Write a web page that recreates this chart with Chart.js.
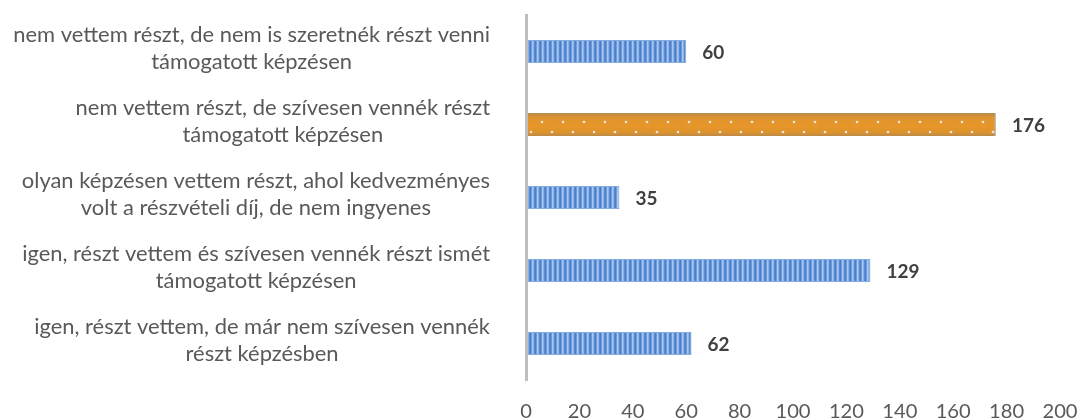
<!DOCTYPE html>
<html><head><meta charset="utf-8">
<script src="https://cdn.jsdelivr.net/npm/chart.js@4.4.0/dist/chart.umd.min.js"></script>
<style>html,body{margin:0;padding:0;background:#fff;overflow:hidden}#wrap{width:1081px;height:419px;position:relative}</style>
</head><body><div id="wrap"><canvas id="c"></canvas></div>
<script>
// ---- data ----
const categories = [
  ["nem vettem részt, de nem is szeretnék részt venni", "támogatott képzésen"],
  ["nem vettem részt, de szívesen vennék részt", "támogatott képzésen"],
  ["olyan képzésen vettem részt, ahol kedvezményes", "volt a részvételi díj, de nem ingyenes"],
  ["igen, részt vettem és szívesen vennék részt ismét", "támogatott képzésen"],
  ["igen, részt vettem, de már nem szívesen vennék", "részt képzésben"]
];
const values = [60, 176, 35, 129, 62];
const highlighted = [false, true, false, false, false];
const xMin = 0, xMax = 200, xStep = 20;

// ---- fonts ----
const FAMILY = 'Lato, "Open Sans", sans-serif';
function fit(text, weight, target) {
  const c = document.createElement('canvas').getContext('2d');
  c.font = weight + ' 100px ' + FAMILY;
  return target * 100 / c.measureText(text).width;
}
const labelSize = fit(categories[0][0], 'normal', 477);
const tickSize = fit('200', 'normal', 35);
const valueSize = fit('176', 'bold', 33);

// ---- patterns ----
function bluePattern() {
  const t = document.createElement('canvas'); t.width = 5; t.height = 4;
  const g = t.getContext('2d');
  const cols = ['#4A7FCB', '#6D9BDC', '#A9C7EF', '#8CB1E6', '#5A8CD3'];
  cols.forEach((c, i) => { g.fillStyle = c; g.fillRect(i, 0, 1, 4); });
  return g.createPattern(t, 'repeat');
}
function orangePattern() {
  const t = document.createElement('canvas'); t.width = 21; t.height = 24;
  const g = t.getContext('2d');
  const gr = g.createLinearGradient(0, 0, 0, 24);
  gr.addColorStop(0, '#B88A48');
  gr.addColorStop(0.2, '#DE932E');
  gr.addColorStop(0.5, '#E8962A');
  gr.addColorStop(0.8, '#DE932E');
  gr.addColorStop(1, '#B28A50');
  g.fillStyle = gr; g.fillRect(0, 0, 21, 24);
  g.fillStyle = 'rgba(235,240,248,0.9)';
  [[17, 9], [6, 19]].forEach(([x, y]) => { g.beginPath(); g.arc(x, y, 1.3, 0, Math.PI * 2); g.fill(); });
  return g.createPattern(t, 'repeat');
}
const bluePat = bluePattern();
const orangePat = orangePattern();

const patternAlign = {
  id: 'patternAlign',
  beforeDatasetsDraw(chart) {
    const meta = chart.getDatasetMeta(0);
    meta.data.forEach((el, i) => {
      if (highlighted[i]) {
        const top = Math.round(el.y - el.height / 2);
        orangePat.setTransform(new DOMMatrix([1, 0, 0, 1, 0, top]));
      }
    });
  }
};

const valueLabels = {
  id: 'valueLabels',
  afterDatasetsDraw(chart) {
    const ctx = chart.ctx;
    const meta = chart.getDatasetMeta(0);
    ctx.save();
    ctx.font = 'bold ' + valueSize + 'px ' + FAMILY;
    ctx.fillStyle = '#404040';
    ctx.textAlign = 'left';
    ctx.textBaseline = 'middle';
    meta.data.forEach((el, i) => {
      ctx.fillText(String(values[i]), el.x + 16, el.y + 1);
    });
    ctx.restore();
  }
};

const categoryLabels = {
  id: 'categoryLabels',
  afterDraw(chart) {
    const ctx = chart.ctx;
    const meta = chart.getDatasetMeta(0);
    const right = 490;
    ctx.save();
    ctx.font = labelSize + 'px ' + FAMILY;
    ctx.fillStyle = '#595959';
    ctx.textAlign = 'center';
    ctx.textBaseline = 'middle';
    meta.data.forEach((el, i) => {
      const lines = categories[i];
      const maxW = Math.max(...lines.map(l => ctx.measureText(l).width));
      const cx = right - maxW / 2;
      lines.forEach((l, j) => {
        ctx.fillText(l, cx, el.y - 3.5 + (j - (lines.length - 1) / 2) * 27);
      });
    });
    ctx.restore();
  }
};

new Chart(document.getElementById('c'), {
  type: 'bar',
  data: {
    labels: categories,
    datasets: [{
      data: values,
      backgroundColor: highlighted.map(h => h ? orangePat : bluePat),
      borderColor: highlighted.map(h => h ? '#A9BCD2' : '#86ABE0'),
      borderWidth: highlighted.map(h => h ? { right: 1 } : 1),
      borderSkipped: 'start',
      categoryPercentage: 0.35,
      barPercentage: 0.9
    }]
  },
  options: {
    indexAxis: 'y',
    responsive: true,
    maintainAspectRatio: false,
    animation: false,
    layout: { padding: { left: 0, right: 21, top: 15, bottom: 0 } },
    plugins: { legend: { display: false }, tooltip: { enabled: false } },
    scales: {
      x: {
        min: xMin, max: xMax,
        grid: { display: false, drawTicks: false },
        border: { display: false },
        ticks: { stepSize: xStep, color: '#595959', padding: 19, maxRotation: 0,
          font: { family: FAMILY, size: tickSize } },
        afterFit(scale) { scale.height = 39; scale.paddingRight = 0; scale.paddingLeft = 0; }
      },
      y: {
        grid: { display: false, drawTicks: false },
        border: { display: true, color: '#BFBFBF', width: 3, z: 1 },
        ticks: { display: false },
        afterFit(scale) { scale.width = 526; }
      }
    }
  },
  plugins: [patternAlign, valueLabels, categoryLabels]
});
</script>
</body></html>
